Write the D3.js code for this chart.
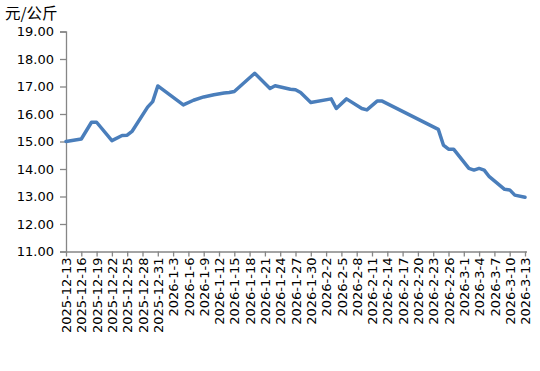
<!DOCTYPE html>
<html><head><meta charset="utf-8">
<script src="https://cdn.jsdelivr.net/npm/d3@7"></script>
<style>
html,body{margin:0;padding:0;background:#fff;}
svg{display:block;}
</style>
</head><body>
<svg id="chart" width="540" height="371"></svg>
<script>
const dates = ["2025-12-13","2025-12-16","2025-12-18","2025-12-19","2025-12-22","2025-12-24","2025-12-25","2025-12-26","2025-12-29","2025-12-30","2025-12-31",
"2026-01-05","2026-01-07","2026-01-09","2026-01-11","2026-01-13","2026-01-14","2026-01-15","2026-01-19","2026-01-22","2026-01-23","2026-01-26","2026-01-27","2026-01-28","2026-01-30",
"2026-02-03","2026-02-04","2026-02-06","2026-02-09","2026-02-10","2026-02-12","2026-02-13","2026-02-24","2026-02-25","2026-02-26","2026-02-27",
"2026-03-02","2026-03-03","2026-03-04","2026-03-05","2026-03-06","2026-03-09","2026-03-10","2026-03-11","2026-03-13"];
const prices = [15.00,15.09,15.70,15.70,15.03,15.22,15.23,15.38,16.25,16.45,17.02,
16.33,16.50,16.62,16.70,16.76,16.78,16.82,17.48,16.93,17.03,16.90,16.88,16.78,16.42,
16.55,16.20,16.55,16.20,16.15,16.47,16.47,15.44,14.87,14.72,14.72,
14.02,13.96,14.02,13.96,13.72,13.26,13.24,13.05,12.97];
const tickLabels = ["2025-12-13","2025-12-16","2025-12-19","2025-12-22","2025-12-25","2025-12-28","2025-12-31",
"2026-1-3","2026-1-6","2026-1-9","2026-1-12","2026-1-15","2026-1-18","2026-1-21","2026-1-24","2026-1-27","2026-1-30",
"2026-2-2","2026-2-5","2026-2-8","2026-2-11","2026-2-14","2026-2-17","2026-2-20","2026-2-23","2026-2-26",
"2026-3-1","2026-3-4","2026-3-7","2026-3-10","2026-3-13"];
const yTicks = [11,12,13,14,15,16,17,18,19];
const unitLabel = "元/公斤";

const svg = d3.select("#chart");
const parse = d3.timeParse("%Y-%m-%d");
const parseTick = d3.timeParse("%Y-%-m-%-d");
const fmt = d3.timeFormat("%Y-%-m-%-d");
const data = dates.map((d,i)=>({date:parse(d), v:prices[i]}));

const mLeft = 66, mRight = 525, mTop = 31.5, mBottom = 251.5;
const x = d3.scaleTime().domain([parse("2025-12-13"), parse("2026-03-13")]).range([mLeft, mRight]);
const y = d3.scaleLinear().domain([11,19]).range([mBottom, mTop]);

const axisColor = "#868686";
const font = "'DejaVu Sans', sans-serif";

// y axis
const yAxis = svg.append("g").attr("transform",`translate(${mLeft},0)`)
  .call(d3.axisLeft(y).tickValues(yTicks).tickFormat(d3.format(".2f")).tickSize(6).tickPadding(6));
yAxis.select(".domain").attr("stroke",axisColor).attr("stroke-width",1.3);
yAxis.selectAll(".tick line").attr("stroke",axisColor).attr("stroke-width",1.3);
yAxis.selectAll(".tick text").attr("fill","#000").style("font-family",font).style("font-size","13px");

// x axis
const xAxis = svg.append("g").attr("transform",`translate(0,${mBottom})`)
  .call(d3.axisBottom(x).tickValues(tickLabels.map(parseTick)).tickFormat(fmt).tickSize(5).tickSizeOuter(0));
xAxis.select(".domain").attr("stroke",axisColor).attr("stroke-width",1.3).attr("d",`M${mLeft},0.5H${mRight+2}`);
xAxis.selectAll(".tick line").attr("stroke",axisColor).attr("stroke-width",1.3);
xAxis.selectAll(".tick text").attr("fill","#000").style("font-family",font).style("font-size","13px")
  .attr("transform","rotate(-90)").attr("text-anchor","end").attr("x",-6).attr("y",0).attr("dy","0.36em");

// line
svg.append("path").datum(data)
  .attr("fill","none").attr("stroke","#4A7EBB").attr("stroke-width",3.5)
  .attr("stroke-linejoin","round").attr("stroke-linecap","round")
  .attr("d", d3.line().x(d=>x(d.date)).y(d=>y(d.v)));

// unit label
svg.append("text").attr("x",5).attr("y",19).text(unitLabel)
  .style("font-family","'Noto Sans CJK SC', sans-serif").style("font-size","15.5px").attr("fill","#000");
</script>
</body></html>
